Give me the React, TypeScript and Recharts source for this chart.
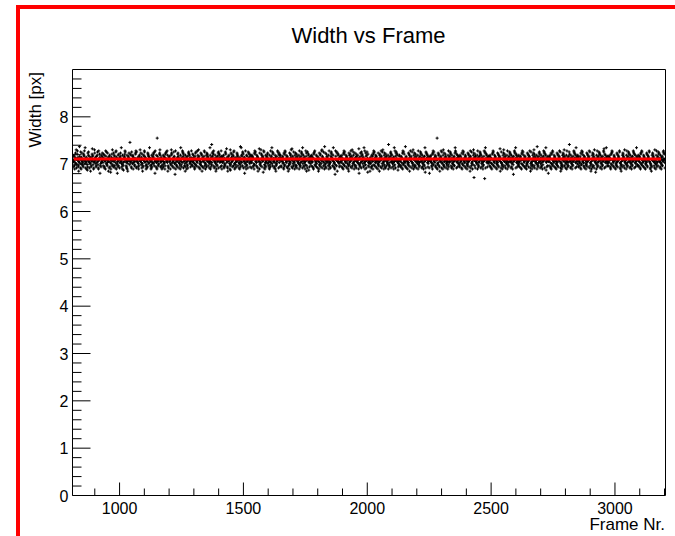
import { ScatterChart, Scatter, XAxis, YAxis, ReferenceArea } from 'recharts'

// one character per measured frame, width = 7.1 + (base36 code - 20) * 0.045 px
// rows A: even frames from 812, rows B: odd frames from 813 (read half a step lower)
const FRAME_STEP = 2
const LAST_FRAME = 3202
const CODE_CENTER = 20
const WIDTH_CENTER = 7.1
const CODE_STEP = 0.045

const evenFrameRows = [
  'kjmhlnigkolhjqkgilnjhkmoigjlkfnmjgkilhjpmkgjnlihkmjgoklhimjn',
  'lhkgmjoikhnljgmkeilhkjnmhgkolijmhkglnjikmhfjlokhgmjilnksjmgk',
  'imlkhjnogkjlihmkjnlgihkmojlhkgjnmilkhjgmklnihjokmgujhiknmjlh',
  'gkmjilhnkjomhgljkimnhkjlgidokhjlnkgihmjklongjhimkljhgnkmijlo',
  'khjmlignkhjomlkgijnhmkljgohikmnljhkgimjlrnkhogjmilkhjngmklj',
  'ohlkjmgihnkplgjkmihfnljkmhoigkljnmhkgilqjmkhngjliokmhjgknlim',
  'jgmlkhinokjhmlgkjpnihkmljeogkhmjlinkhgmjolkihnjgkmlhijokgnml',
  'mhkjlignhokmjlgkhinjmlkpgihjkmnlhgkjimolhknjgimhlkjonhgkmfjl',
  'ikhmjlgnkohjmikgljnhmkiogljhkqnigjlkhmoijgnlkhmjigdokhnjmkil',
  'hjlkmginohkjmlgikhnmjlokghimjknlhgjkmiplhnkgjmilhkojngmkehji',
  'kligmhjnokhlmjgkinhjmlkogihkjmnlgkhjimrlhkngjmiklhjognkmjfih',
  'mjkhlgnoikjhqlgkjinhmlokjgihkmnlhjgkimojlhknjgmilkhjegnkmlij',
  'gkljmhinokjlmhkguinmhkljogikmhnjlkgihjmolkjnhgmikljhnokgjmli',
  'lhmkjgniokhjlmgkihnjmlkoghijkmnlhgjkimolhjkngmilkhjobngkmjli',
  'jkhmlgiknohjmlkgijnhmlkpjgihkmnljhgkimojlhknjgmilkdjonkgmlji',
  'hmjklginokhmjlgkhinjmlkogihjkmnlhgjkimqlhknjgimhlkjongkmfjlh',
  'kjhlmgnikohjmlkgijnhmklojgihkmnljhkgimojlhkrjgmilkhjonkgmlji',
  'mlkjhgniokjmhlgkihnjmlkoghijkmnlhgkjeimolhjkngmilkhjopgkmjlih',
  'jhklmginokhjmlgkihnjmlkogihjkmnlhgjkimolhknjgmilkhjongkmijlh',
  'kmhjlgniokhjmlgkijnhmlkojgihkmnljhgkimojlhknjgmilkhjonkgmljs',
]

const oddFrameRows = [
  'hmkgjlpinkhfjmlogkijhnmkqljgihkomjlfhknmigjpklhmjoigknelhjmk',
  'jnlhkgmoijkflmhjgknpihlkmjogiehknljmkqhgijlmnokjhgfmlkinjhok',
  'mgjkilnhokjhgmlpkijnfhkmojlgikhnmjqlkgihjmnloekhjgmkilnphjkg',
  'kihmjgnlokjfhlmkgipnjhkomljgikhnmjlkgqihjomnlkfhjgimkonljhki',
  'lnjkhgmiokjlhpmkgijnfhlkmojgihknmljkqghijmonlkhjfgimkolnjhkm',
  'gjmkhlionkjhfmlkgpijnhkmolgjihknmljkgihqjmonlkehjgimkolnjhkm',
  'jkmhlginokjhmflkgijpnhkmloigjhkmnljkgihjmqonlkhjgfimkolnjhkl',
  'hlkmjgniokjhmlfkgijnphkmlojgihknmljkgihjmonqlkhjgimfkolnjhkm',
  'kmjhlgnoikjhmlkfgijnhkpmlojgihknmljkgihjmonlkqhjgimkofknjhlm',
  'mjhklginokjhmlkgfijnhkmplojgihknmljkgeihjmonlkhqjgimkolnjhkf',
  'jlhkmgniokjhmlkgijfnhkmlopjgihknmljkgihjmonlkhjgqimkolnjhkmi',
  'khmjlgionkjhmlkgijnfhkmlojpgihknmljkgihjmonlkhjgimqkolnjhkme',
  'lmkjhgniokjhmlkgijnhfkmlojgpihknmljkgihjmonlkhjgimkqolnjhkmi',
  'hjmklginokjhmlkgijnhkfmlojgipcknmljkgihjmonlkhjgimkoqlnjhkmj',
  'mkhjlgniokjhmlkgijnhkmflojgihpknmljkgihjmonlkhjgimkolqnjhkmi',
  'jhlmkgniokjhmlkgijnhkmlfojgihkpnmljkgihjmonlkhjgimkolnqjhkme',
  'kmljhgniokjhmlkgijnhkmlofjgihknpmljkgihjmonlkhjgimkolnjqhkmi',
  'hkjmlginokjhmlkgijnhkmlojfgihknmpljkgihjmonlkhjgimkolnjhqkmj',
  'mjlkhgniokjhmlkgijnhkmlojgfihknmlpjkgihjmonlkhjgimkolnjhkqmi',
  'lkhmjgniokjhmlkgijnhkmlojgifhknmljpkgihjmonlkhjgimkolnjhkmqr',
]

function decodeRows(rows: string[], firstFrame: number, offset: number) {
  return rows
    .join('')
    .split('')
    .map((c, i) => ({
      frame: firstFrame + i * FRAME_STEP,
      width: WIDTH_CENTER + (parseInt(c, 36) - CODE_CENTER + offset) * CODE_STEP,
    }))
    .filter((p) => p.frame <= LAST_FRAME)
}

const points = [...decodeRows(evenFrameRows, 812, 0), ...decodeRows(oddFrameRows, 813, -0.5)]

// constant fit
const fitFrames = [815, 3186]
const fitWidth = 7.11
const fitPoints = fitFrames.map((f) => ({ frame: f, width: fitWidth }))

const xDomain = [810, 3204]
const yDomain = [0, 9]
const xMajor = [1000, 1500, 2000, 2500, 3000]
const yMajor = [0, 1, 2, 3, 4, 5, 6, 7, 8]
const xTicks = Array.from({ length: 24 }, (_, i) => 900 + i * 100)
const yTicks = Array.from({ length: 45 }, (_, i) => Math.round(i * 2) / 10)

const FONT = '"Liberation Sans", Arial, Helvetica, sans-serif'

function XTick(props: any) {
  const { x, y, payload } = props
  const major = xMajor.includes(payload.value)
  return (
    <g>
      <line x1={x} x2={x} y1={y} y2={y - (major ? 13 : 7)} stroke="#000" />
      {major && (
        <text x={x} y={y + 18} textAnchor="middle" fontSize={16} fontFamily={FONT} fill="#000">
          {payload.value}
        </text>
      )}
    </g>
  )
}

function YTick(props: any) {
  const { x, y, payload } = props
  const major = yMajor.includes(payload.value)
  return (
    <g>
      <line x1={x} x2={x + (major ? 18 : 9)} y1={y} y2={y} stroke="#000" />
      {major && (
        <text x={x - 4} y={y + 6} textAnchor="end" fontSize={16} fontFamily={FONT} fill="#000">
          {payload.value}
        </text>
      )}
    </g>
  )
}

function Cross(props: any) {
  const { cx, cy } = props
  if (cx == null || cy == null) return null
  return <path d={`M${cx - 1.5},${cy}h3M${cx},${cy - 1.5}v3`} stroke="#000" strokeWidth={1} />
}

export default function App() {
  return (
    <div style={{ position: 'absolute', left: 0, top: 0, width: 675, height: 536, background: '#fff' }}>
      <ScatterChart
        width={675}
        height={536}
        margin={{ top: 69.5, right: 9.5, bottom: 0, left: 0.5 }}
      >
        <XAxis
          type="number"
          dataKey="frame"
          domain={xDomain}
          ticks={xTicks}
          interval={0}
          allowDataOverflow
          height={40.5}
          axisLine={false}
          tickLine={false}
          tickSize={0}
          tickMargin={0}
          tick={<XTick />}
        />
        <YAxis
          type="number"
          dataKey="width"
          domain={yDomain}
          ticks={yTicks}
          interval={0}
          allowDataOverflow
          width={72}
          axisLine={false}
          tickLine={false}
          tickSize={0}
          tickMargin={0}
          tick={<YTick />}
        />
        <ReferenceArea
          x1={xDomain[0]}
          x2={xDomain[1]}
          y1={yDomain[0]}
          y2={yDomain[1]}
          fill="none"
          fillOpacity={0}
          stroke="#000"
          strokeWidth={1}
        />
        <Scatter data={points} shape={<Cross />} isAnimationActive={false} />
        <Scatter
          data={fitPoints}
          line={{ stroke: '#ff0000', strokeWidth: 3 }}
          shape={() => null}
          isAnimationActive={false}
        />
      </ScatterChart>
      <svg
        width={675}
        height={536}
        style={{ position: 'absolute', left: 0, top: 0, pointerEvents: 'none' }}
      >
        <text x={368.5} y={43} textAnchor="middle" fontSize={22} fontFamily={FONT} fill="#000">
          Width vs Frame
        </text>
        <text
          transform="translate(41,72) rotate(-90)"
          textAnchor="end"
          fontSize={17}
          fontFamily={FONT}
          fill="#000"
        >
          Width [px]
        </text>
        <text x={665} y={530} textAnchor="end" fontSize={17} fontFamily={FONT} fill="#000">
          Frame Nr.
        </text>
        <path d="M18,536V7H675" fill="none" stroke="#ff0000" strokeWidth={4} />
      </svg>
    </div>
  )
}
